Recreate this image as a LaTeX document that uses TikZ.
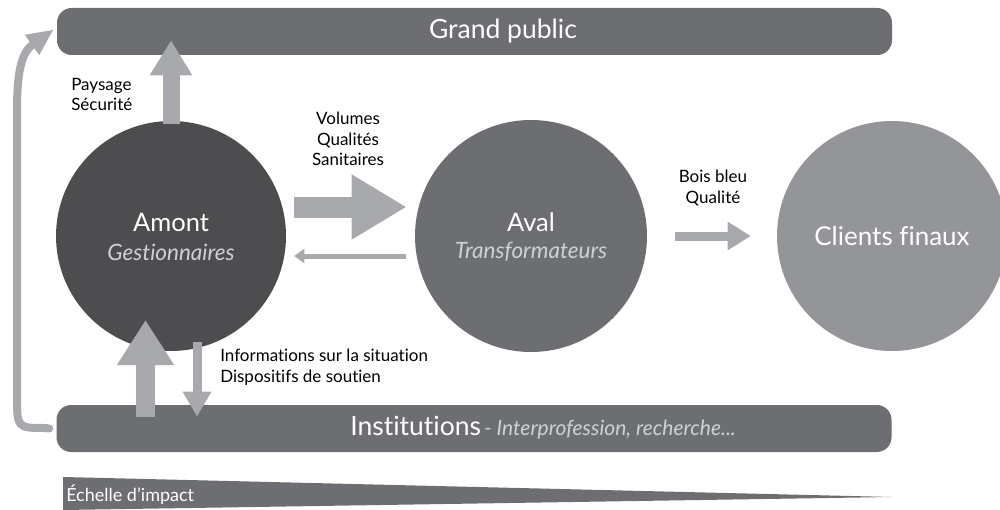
\documentclass[tikz,border=0pt]{standalone}
\usepackage{fontspec}
\setmainfont{Lato}[Ligatures={NoCommon}]
\usetikzlibrary{arrows.meta,calc}
\definecolor{cdark}{HTML}{4D4D4F}
\definecolor{cmid}{HTML}{6D6E71}
\definecolor{clight}{HTML}{939598}
\definecolor{carrow}{HTML}{A7A9AC}
\definecolor{csub}{HTML}{D0D1D3}
\newcommand{\fpx}[1]{\fontsize{\dimexpr #1pt*3/4\relax}{\dimexpr #1pt*9/10\relax}\selectfont}
\tikzset{
  bar/.style={fill=cmid, rounded corners=11pt, minimum width=626.25pt, minimum height=35.25pt, inner sep=0pt},
  disc/.style={circle, minimum size=#1, inner sep=0pt, text=white, align=center},
  barlabel/.style={text=white, inner sep=0pt},
  lbl/.style={text=black, inner sep=0pt, font=\fpx{17}},
  blockarrow/.style args={#1/#2/#3}{draw=carrow, line width=#1, -{Triangle[length=#2,width=#3,fill=carrow]}},
}
\begin{document}
\begin{tikzpicture}[x=0.75pt,y=-0.75pt]
\useasboundingbox (0,0) rectangle (1000,510);
% bars
\node[bar] (gp) at (474.5,31.5) {};
\node[bar] (inst) at (474,428.5) {};
\node[barlabel, font=\fpx{26.5}] (gpt) at (503,31) {Grand public};
\node[barlabel, anchor=west] (instt) at (350,428) {{\fpx{26.5}Institutions} {\fpx{21}\color{csub}\itshape - Interprofession, recherche...}};
% circles
\node[disc=172.5pt, fill=cdark] (amont) at (171,236) {};
\node[disc=174pt, fill=cmid] (aval) at (531,236) {};
\node[disc=172.5pt, fill=clight] (clients) at (892,236) {};
\node[text=white, font=\fpx{25.5}, inner sep=0pt] (amontt) at (171,222) {Amont};
\node[text=csub, font=\fpx{22.5}\itshape, inner sep=0pt] (amonts) at (171,252) {Gestionnaires};
\node[text=white, font=\fpx{25.5}, inner sep=0pt] (avalt) at (531,222) {Aval};
\node[text=csub, font=\fpx{22.5}\itshape, inner sep=0pt] (avals) at (531,252) {Transformateurs};
\node[text=white, font=\fpx{26}, inner sep=0pt] (clientst) at (892,236) {Clients finaux};
% arrows
\draw[blockarrow={12.75pt/26.25pt/30pt}] ($(amont.north)+(0,3)$) -- ($(amont.north |- gp.south)+(0,-15)$);
\draw[blockarrow={15.75pt/41.25pt/45.75pt}] ($(amont.east)+(8,-29)$) -- ($(aval.west)+(-8,-29)$);
\draw[blockarrow={3.75pt/7.5pt/10.5pt}] ($(aval.west)+(-9,20)$) -- ($(amont.east)+(8,20)$);
\draw[blockarrow={6.75pt/17.25pt/20.25pt}] ($(aval.east)+(28,0)$) -- ($(clients.west)+(-26,0)$);
\draw[blockarrow={14.25pt/33.75pt/40.5pt}] ($(inst.north -| amont.center)+(-25.5,12)$) -- ($(amont.center)+(-25.5,84)$);
\draw[blockarrow={6.75pt/18.75pt/20.25pt}] ($(amont.center)+(26,106)$) -- ($(inst.north -| amont.center)+(26,12)$);
\coordinate (cstart) at ($(inst.west)+(-7,0)$);
\draw[carrow, line width=6pt, line cap=round, -{Triangle[length=20pt,width=17pt,fill=carrow]}]
  (cstart) -- (45,428) .. controls (17,428) and (17,428) .. (17,395) -- (17,110)
  .. controls (17,70) and (22,52) .. ($(gp.west)+(-3,-2)$);
% labels
\node[lbl, anchor=north west, align=left] (l1) at (71,78) {Paysage\\Sécurité};
\node[lbl, anchor=south, align=center] (l2) at (348,166) {Volumes\\Qualités\\Sanitaires};
\node[lbl, anchor=south, align=center] (l3) at (713,206) {Bois bleu\\Qualité};
\node[lbl, anchor=north west, align=left] (l4) at (220,349) {Informations sur la situation\\Dispositifs de soutien};
% impact scale
\fill[cmid] (63,477) -- (892,497) -- (63,510) -- cycle;
\node[text=white, font=\fpx{18}, anchor=west, inner sep=0pt] (ech) at (66,495) {Échelle d’impact};
\end{tikzpicture}
\end{document}
